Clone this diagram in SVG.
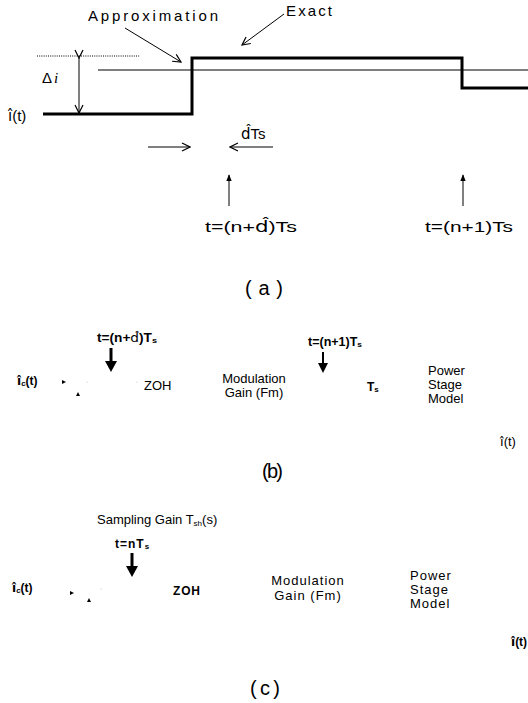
<svg xmlns="http://www.w3.org/2000/svg" width="528" height="703" viewBox="0 0 528 703">
<defs>
<style>
.bg{fill:#fff}
.ta{font-family:"Liberation Sans",Arial,sans-serif;font-size:15px;fill:#000}
.tb{font-family:"Liberation Sans",Arial,sans-serif;font-size:13px;fill:#000}
.tbb{font-family:"Liberation Sans",Arial,sans-serif;font-size:12px;font-weight:bold;fill:#000}
.tc{font-family:"Liberation Sans",Arial,sans-serif;font-size:13px;letter-spacing:1px;fill:#000}
.cap{font-family:"Liberation Sans",Arial,sans-serif;font-size:20px;fill:#000}
.dj{font-family:"DejaVu Sans",sans-serif}
.sub{font-size:8px}
.thin{stroke:#000;stroke-width:1;fill:none}
.thick{stroke:#000;stroke-width:3;fill:none}
.dot{fill:#bbb}
</style>
<marker id="openA" viewBox="0 0 10 10" refX="9" refY="5" markerWidth="10" markerHeight="10" markerUnits="userSpaceOnUse" orient="auto">
<path d="M1,1 L9,5 L1,9" fill="none" stroke="#000" stroke-width="1.2"/>
</marker>
<marker id="solidA" viewBox="0 0 10 10" refX="9" refY="5" markerWidth="7" markerHeight="7" markerUnits="userSpaceOnUse" orient="auto">
<path d="M0,1 L10,5 L0,9 Z" fill="#000"/>
</marker>
</defs>
<rect class="bg" x="0" y="0" width="528" height="703"/>

<!-- Part (a) -->
<g id="waveform">
<line x1="37" y1="56" x2="140" y2="56" stroke="#000" stroke-width="1" stroke-dasharray="1,1.2"/>
<line x1="98" y1="70" x2="528" y2="70" class="thin"/>
<polyline points="43,114 192,114 192,58 462,58 462,88 528,88" class="thick"/>
</g>
<g id="labels-a">
<text class="ta" x="88" y="21" textLength="130" lengthAdjust="spacing">Approximation</text>
<text class="ta" x="286" y="16" textLength="46" lengthAdjust="spacing">Exact</text>
<text class="ta" x="42" y="83" font-size="14">Δ<tspan font-style="italic" font-family="Liberation Serif,serif" dx="2">i</tspan></text>
<text class="ta" x="8" y="121" font-size="15"><tspan class="dj">i&#x302;</tspan>(t)</text>
<text class="ta" x="241" y="139" font-size="15"><tspan class="dj">d&#x302;</tspan>Ts</text>
<text class="ta" x="205" y="232" textLength="92" lengthAdjust="spacingAndGlyphs">t=(n+<tspan class="dj">d&#x302;</tspan>)Ts</text>
<text class="ta" x="425" y="232" textLength="88" lengthAdjust="spacingAndGlyphs">t=(n+1)Ts</text>
<text class="cap" x="245" y="295" textLength="38" lengthAdjust="spacing">(a)</text>
</g>

<!-- Part (b) -->
<g id="labels-b">
<text class="tbb" x="97" y="342" textLength="60" lengthAdjust="spacingAndGlyphs">t=(n+<tspan class="dj" font-weight="normal">d&#x302;</tspan>)T<tspan class="sub" dy="1">s</tspan></text>
<text class="tbb" x="17" y="385"><tspan class="dj">i&#x302;</tspan><tspan class="sub" dy="1">c</tspan><tspan dy="-1">(t)</tspan></text>
<text class="tb" x="144" y="390">ZOH</text>
<text class="tb" x="254" y="383" text-anchor="middle">Modulation</text>
<text class="tb" x="254" y="397" text-anchor="middle">Gain (Fm)</text>
<text class="tbb" x="308" y="346" textLength="54" lengthAdjust="spacingAndGlyphs">t=(n+1)T<tspan class="sub" dy="1">s</tspan></text>
<text class="tbb" x="367" y="391">T<tspan class="sub" dy="1">s</tspan></text>
<text class="tb" x="428" y="375">Power</text>
<text class="tb" x="428" y="389">Stage</text>
<text class="tb" x="428" y="403">Model</text>
<text class="tb" x="500" y="446"><tspan class="dj">i&#x302;</tspan>(t)</text>
<text class="cap" x="262" y="478" textLength="21" lengthAdjust="spacing">(b)</text>
</g>

<!-- Part (c) -->
<g id="labels-c">
<text class="tb" x="97" y="524" font-size="14">Sampling Gain T<tspan class="sub" dy="2">sh</tspan><tspan dy="-2">(s)</tspan></text>
<text class="tbb" x="115" y="548" letter-spacing="1">t=nT<tspan class="sub" dy="1">s</tspan></text>
<text class="tbb" x="12" y="592"><tspan class="dj">i&#x302;</tspan><tspan class="sub" dy="1">c</tspan><tspan dy="-1">(t)</tspan></text>
<text class="tbb" x="173" y="595" font-size="13" letter-spacing="0.8">ZOH</text>
<text class="tc" x="308" y="585" text-anchor="middle">Modulation</text>
<text class="tc" x="308" y="600" text-anchor="middle">Gain (Fm)</text>
<text class="tc" x="410" y="580">Power</text>
<text class="tc" x="410" y="594">Stage</text>
<text class="tc" x="410" y="608">Model</text>
<text class="tbb" x="511" y="646"><tspan class="dj">i&#x302;</tspan>(t)</text>
<text class="cap" x="250" y="695" textLength="30" lengthAdjust="spacing">(c)</text>
</g>

<!-- Connectors -->
<g id="connectors">
<line x1="125" y1="28" x2="181" y2="62" class="thin" marker-end="url(#openA)"/>
<line x1="284" y1="14" x2="242" y2="45" class="thin" marker-end="url(#openA)"/>
<line x1="79" y1="58" x2="79" y2="113" class="thin" marker-start="url(#openA)" marker-end="url(#openA)"/>
<line x1="148" y1="147" x2="190" y2="147" class="thin" marker-end="url(#openA)"/>
<line x1="273" y1="147" x2="230" y2="147" class="thin" marker-end="url(#openA)"/>
<line x1="229" y1="206" x2="229" y2="175" class="thin" marker-end="url(#solidA)"/>
<line x1="463" y1="206" x2="463" y2="175" class="thin" marker-end="url(#solidA)"/>

<line x1="111" y1="348" x2="111" y2="362" stroke="#000" stroke-width="3"/>
<polygon points="105,361 117,361 111,372" fill="#000"/>
<line x1="323" y1="352" x2="323" y2="364" stroke="#000" stroke-width="2"/>
<polygon points="318,363 328,363 323,373" fill="#000"/>
<polygon points="62,380 66,382 62,384" fill="#000"/>
<polygon points="76,396 78,392 80,396" fill="#000"/>
<circle class="dot" cx="87" cy="382" r="0.6"/>
<circle class="dot" cx="137" cy="382" r="0.6"/>

<line x1="132" y1="553" x2="132" y2="567" stroke="#000" stroke-width="3"/>
<polygon points="126,566 138,566 132,577" fill="#000"/>
<polygon points="70,591 74,593 70,595" fill="#000"/>
<polygon points="87,602 89,598 91,602" fill="#000"/>
<circle class="dot" cx="101" cy="589" r="0.6"/>
</g>
</svg>
